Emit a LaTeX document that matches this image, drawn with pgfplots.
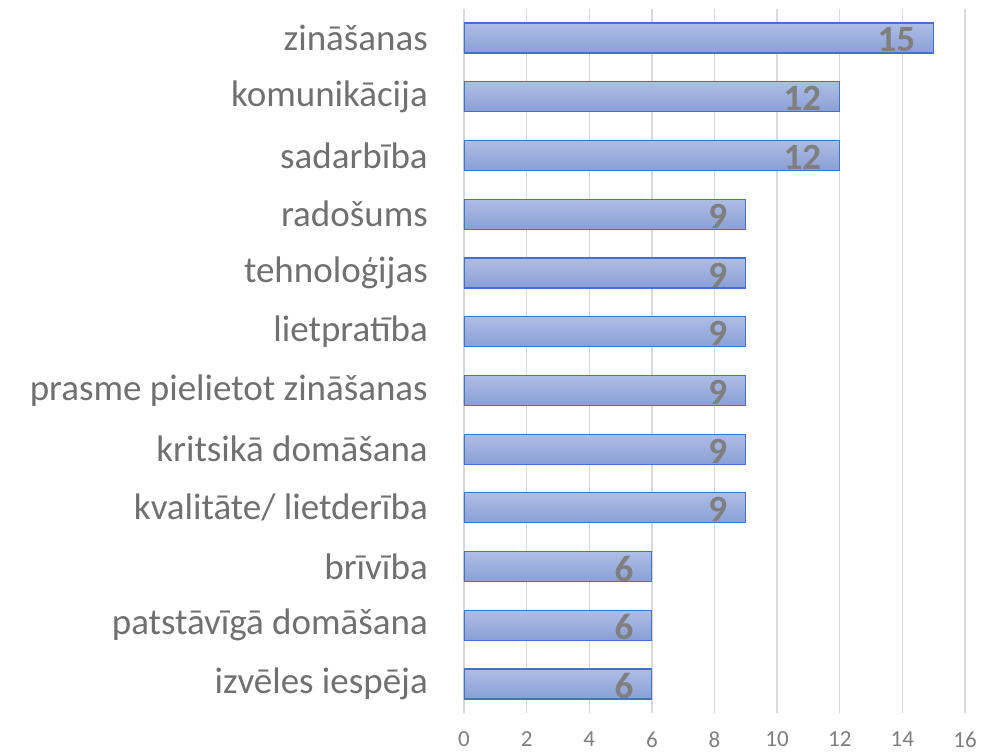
\documentclass[border=0pt]{standalone}
\usepackage{pgfplots}
\pgfplotsset{compat=1.18}
\usepackage{fontspec}
\setmainfont{Carlito}
\definecolor{lbl}{RGB}{112,112,112}
\definecolor{dlbl}{RGB}{127,127,127}
\definecolor{grd}{RGB}{217,217,217}
\definecolor{bedge}{RGB}{68,114,196}
\definecolor{btop}{RGB}{174,189,229}
\definecolor{bbot}{RGB}{138,159,213}
\tikzset{mybar/.style={draw=bedge, line width=1.2pt, top color=btop, bottom color=bbot}}
\begin{document}
\begin{tikzpicture}
\begin{axis}[
  at={(0,0)}, anchor=south west,
  scale only axis, width=501pt, height=704.8pt,
  xbar, bar width=30pt, bar shift=0pt,
  xmin=0, xmax=16, xtick={0,2,...,16},
  ymin=-0.5, ymax=11.5, y dir=reverse,
  ytick={0,...,11},
  yticklabels={zināšanas,komunikācija,{sadarbība~},radošums,tehnoloģijas,lietpratība,{prasme pielietot zināšanas~},kritsikā domāšana,kvalitāte/ lietderība,brīvība,patstāvīgā domāšana,izvēles iespēja},
  axis line style={draw=none},
  major tick length=0pt,
  xmajorgrids, grid style={grd, line width=1.3pt},
  /pgf/number format/assume math mode=true,
  xticklabel style={font=\fontsize{23}{27}\selectfont, text=dlbl, inner sep=0pt, anchor=north, yshift=-18pt},
  yticklabel style={font=\fontsize{37}{44}\selectfont, text=lbl, inner sep=0pt, anchor=east, xshift=-36pt},
  nodes near coords,
  nodes near coords style={font=\fontsize{37}{42}\selectfont\bfseries, text=dlbl, anchor=east, inner sep=0pt, xshift=-18pt, yshift=-2pt},
]
\addplot[mybar] coordinates {(15,0)};
\addplot[mybar] coordinates {(12,1)};
\addplot[mybar] coordinates {(12,2)};
\addplot[mybar] coordinates {(9,3)};
\addplot[mybar] coordinates {(9,4)};
\addplot[mybar] coordinates {(9,5)};
\addplot[mybar] coordinates {(9,6)};
\addplot[mybar] coordinates {(9,7)};
\addplot[mybar] coordinates {(9,8)};
\addplot[mybar] coordinates {(6,9)};
\addplot[mybar] coordinates {(6,10)};
\addplot[mybar] coordinates {(6,11)};
\end{axis}
\path (-464pt,-38.6pt) rectangle (520pt,713.4pt);
\end{tikzpicture}
\end{document}
